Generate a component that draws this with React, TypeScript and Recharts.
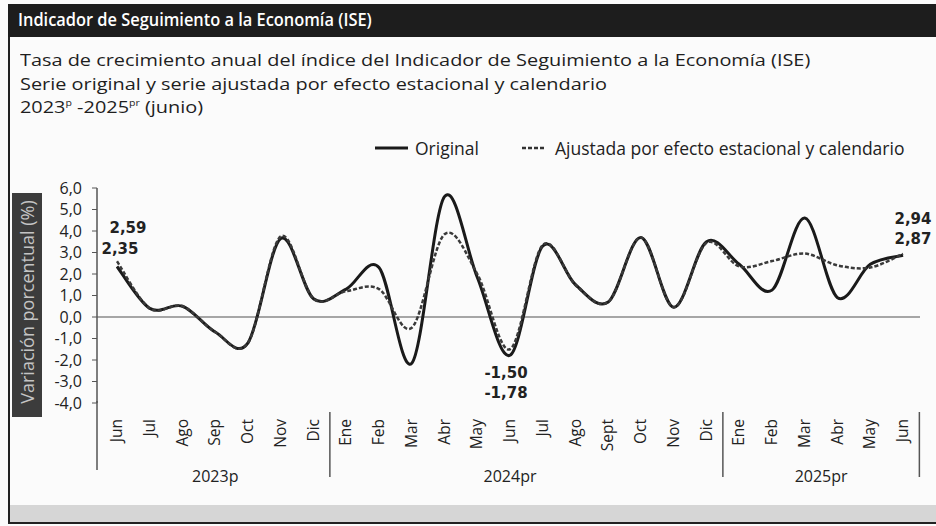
import React from "react";
import { LineChart, Line, XAxis, YAxis, ReferenceLine, Legend, LabelList } from "recharts";

// Meses (jun 2023 - jun 2025)
const months = [
  "Jun", "Jul", "Ago", "Sep", "Oct", "Nov", "Dic",
  "Ene", "Feb", "Mar", "Abr", "May", "Jun", "Jul", "Ago", "Sept", "Oct", "Nov", "Dic",
  "Ene", "Feb", "Mar", "Abr", "May", "Jun",
];

// Serie original (%)
const original = [
  2.35, 0.4, 0.5, -0.7, -1.2, 3.65, 0.85,
  1.3, 2.3, -2.15, 5.6, 1.85, -1.78, 3.3, 1.5, 0.7, 3.7, 0.45, 3.5,
  2.45, 1.25, 4.6, 0.9, 2.45, 2.87,
];

// Serie ajustada por efecto estacional y calendario (%)
const adjusted = [
  2.59, 0.4, 0.5, -0.7, -1.2, 3.75, 0.85,
  1.2, 1.3, -0.5, 3.85, 2.0, -1.5, 3.35, 1.5, 0.7, 3.7, 0.45, 3.45,
  2.35, 2.6, 2.95, 2.4, 2.3, 2.94,
];

const yTicks = [-4, -3, -2, -1, 0, 1, 2, 3, 4, 5, 6];

// año: posición en índices de mes
const yearLabels = [
  { label: "2023p", at: 3 },
  { label: "2024pr", at: 12 },
  { label: "2025pr", at: 21.5 },
];
const groupEnds = [6, 18, 24];

// meses con etiqueta de valor: [dx, dy] por serie
const origLabelPos: Record<number, [number, number]> = { 0: [3, -12], 12: [-4, 43], 24: [10, -11] };
const adjLabelPos: Record<number, [number, number]> = { 0: [11, -28], 12: [-4, 29], 24: [10, -30] };

const data = months.map((m, i) => ({ i, month: m, original: original[i], adjusted: adjusted[i] }));

const W = 936;
const H = 526;
const PLOT_LEFT = 97;
const PLOT_RIGHT = 920;
const PAD_L = 20;
const PAD_R = 17;
const STEP = (PLOT_RIGHT - PLOT_LEFT - PAD_L - PAD_R) / (months.length - 1);

const fmt = (v: number, d = 2) => v.toFixed(d).replace(".", ",");

// suavizado tipo Excel (Catmull-Rom)
const excelSmooth = (context: any) => {
  let pts: number[][] = [];
  return {
    areaStart() {},
    areaEnd() {},
    lineStart() {
      pts = [];
    },
    point(x: number, y: number) {
      pts.push([+x, +y]);
    },
    lineEnd() {
      const n = pts.length;
      if (!n) return;
      context.moveTo(pts[0][0], pts[0][1]);
      for (let k = 0; k < n - 1; k++) {
        const p0 = pts[Math.max(k - 1, 0)];
        const p1 = pts[k];
        const p2 = pts[k + 1];
        const p3 = pts[Math.min(k + 2, n - 1)];
        context.bezierCurveTo(
          p1[0] + (p2[0] - p0[0]) / 6,
          p1[1] + (p2[1] - p0[1]) / 6,
          p2[0] - (p3[0] - p1[0]) / 6,
          p2[1] - (p3[1] - p1[1]) / 6,
          p2[0],
          p2[1]
        );
      }
    },
  };
};

const MonthTick = (props: any) => {
  const { x, y, payload } = props;
  const i = Number(payload.value);
  const year = yearLabels.find((yl) => Math.floor(yl.at) === i);
  return (
    <g>
      <text
        transform={`translate(${x + 5},${y + 16}) rotate(-90)`}
        textAnchor="end"
        fontSize={15.5}
        fill="#222"
      >
        {months[i]}
      </text>
      {i === 0 && <line x1={x - PAD_L} x2={x - PAD_L} y1={y - 2} y2={470} stroke="#555" strokeWidth={1.5} />}
      {groupEnds.includes(i) && (
        <line x1={x + STEP / 2} x2={x + STEP / 2} y1={412} y2={477} stroke="#555" strokeWidth={1.5} />
      )}
      {year && (
        <text x={x + (year.at - i) * STEP} y={482} textAnchor="middle" fontSize={16} fill="#222">
          {year.label}
        </text>
      )}
    </g>
  );
};

const makeLabel = (pos: Record<number, [number, number]>, vals: number[]) => (props: any) => {
  const idx = props.index;
  const off = pos[idx];
  if (!off) return null;
  const vb = props.viewBox || {};
  const x = vb.x ?? props.x;
  const y = vb.y ?? props.y;
  return (
    <text
      x={x + off[0]}
      y={y + off[1]}
      textAnchor="middle"
      fontFamily="'DejaVu Sans', sans-serif"
      fontSize={15}
      fontWeight={700}
      fill="#222"
    >
      {fmt(vals[idx])}
    </text>
  );
};

const renderLegend = () => (
  <div style={{ display: "flex", alignItems: "center", fontSize: 17.5, color: "#222", whiteSpace: "nowrap" }}>
    <svg width={33} height={10}>
      <line x1={0} y1={5} x2={33} y2={5} stroke="#1a1a1a" strokeWidth={3} />
    </svg>
    <span style={{ marginLeft: 7 }}>Original</span>
    <svg width={22} height={10} style={{ marginLeft: 43 }}>
      <line x1={0} y1={5} x2={22} y2={5} stroke="#333" strokeWidth={2.5} strokeDasharray="4 2" />
    </svg>
    <span style={{ marginLeft: 11 }}>Ajustada por efecto estacional y calendario</span>
  </div>
);

export default function App() {
  return (
    <div
      style={{
        position: "absolute",
        left: 0,
        top: 0,
        width: W,
        height: H,
        background: "#fbfbfb",
        fontFamily: "'Open Sans', sans-serif",
        color: "#1e1e1e",
        overflow: "hidden",
      }}
    >
      {/* marco */}
      <div style={{ position: "absolute", left: 8, top: 4, width: 928, height: 33, background: "#1d1d1d" }} />
      <div
        style={{
          position: "absolute",
          left: 18,
          top: 7,
          fontSize: 18,
          fontWeight: 600,
          color: "#fff",
          transform: "scaleX(0.91)",
          transformOrigin: "left",
          whiteSpace: "nowrap",
        }}
      >
        Indicador de Seguimiento a la Economía (ISE)
      </div>
      <div style={{ position: "absolute", left: 8, top: 37, width: 2, height: 486, background: "#222" }} />
      <div style={{ position: "absolute", left: 8, top: 522, width: 928, height: 2, background: "#222" }} />
      <div style={{ position: "absolute", left: 10, top: 505, width: 926, height: 17, background: "#d6d6d6" }} />

      <div
        style={{
          position: "absolute",
          left: 20,
          top: 48,
          fontSize: 17,
          lineHeight: "23.5px",
          transform: "scaleX(1.17)",
          transformOrigin: "left",
          whiteSpace: "nowrap",
        }}
      >
        <div>Tasa de crecimiento anual del índice del Indicador de Seguimiento a la Economía (ISE)</div>
        <div>Serie original y serie ajustada por efecto estacional y calendario</div>
        <div>
          2023<sup style={{ fontSize: 9, lineHeight: 0 }}>p</sup> -2025<sup style={{ fontSize: 9, lineHeight: 0 }}>pr</sup> (junio)
        </div>
      </div>

      {/* título eje Y */}
      <div style={{ position: "absolute", left: 12, top: 193, width: 30, height: 224, background: "#3c3c3c" }} />
      <div
        style={{
          position: "absolute",
          left: 27,
          top: 302,
          transform: "translate(-50%, -50%) rotate(-90deg)",
          fontSize: 18,
          color: "#c4c4c4",
          whiteSpace: "nowrap",
        }}
      >
        Variación porcentual (%)
      </div>

      <div style={{ position: "absolute", left: 0, top: 0 }}>
        <LineChart
          width={W}
          height={H}
          data={data}
          margin={{ top: 188, right: W - PLOT_RIGHT, bottom: 13, left: 0 }}
        >
          <XAxis
            dataKey="i"
            type="category"
            axisLine={false}
            tickLine={false}
            tickSize={0}
            tickMargin={0}
            interval={0}
            height={110}
            padding={{ left: PAD_L, right: PAD_R }}
            tick={<MonthTick />}
          />
          <YAxis
            width={PLOT_LEFT}
            domain={[-4, 6]}
            ticks={yTicks}
            interval={0}
            tickFormatter={(v: number) => fmt(v, 1)}
            axisLine={{ stroke: "#555", strokeWidth: 1.5 }}
            tickLine={{ stroke: "#555" }}
            tickSize={5}
            tickMargin={10}
            tick={{ fontSize: 16, fill: "#222" }}
          />
          <ReferenceLine y={0} stroke="#8a8a8a" strokeWidth={1.5} />
          <Legend
            verticalAlign="middle"
            layout="horizontal"
            content={renderLegend}
            wrapperStyle={{ top: 136, left: 375, width: 560, height: 24 }}
          />
          <Line
            dataKey="original"
            name="Original"
            type={excelSmooth as any}
            stroke="#1a1a1a"
            strokeWidth={3}
            dot={false}
            activeDot={false}
            isAnimationActive={false}
          >
            <LabelList dataKey="original" content={makeLabel(origLabelPos, original)} />
          </Line>
          <Line
            dataKey="adjusted"
            name="Ajustada por efecto estacional y calendario"
            type={excelSmooth as any}
            stroke="#3a3a3a"
            strokeWidth={2.5}
            strokeDasharray="4 2"
            dot={false}
            activeDot={false}
            isAnimationActive={false}
          >
            <LabelList dataKey="adjusted" content={makeLabel(adjLabelPos, adjusted)} />
          </Line>
        </LineChart>
      </div>
    </div>
  );
}
